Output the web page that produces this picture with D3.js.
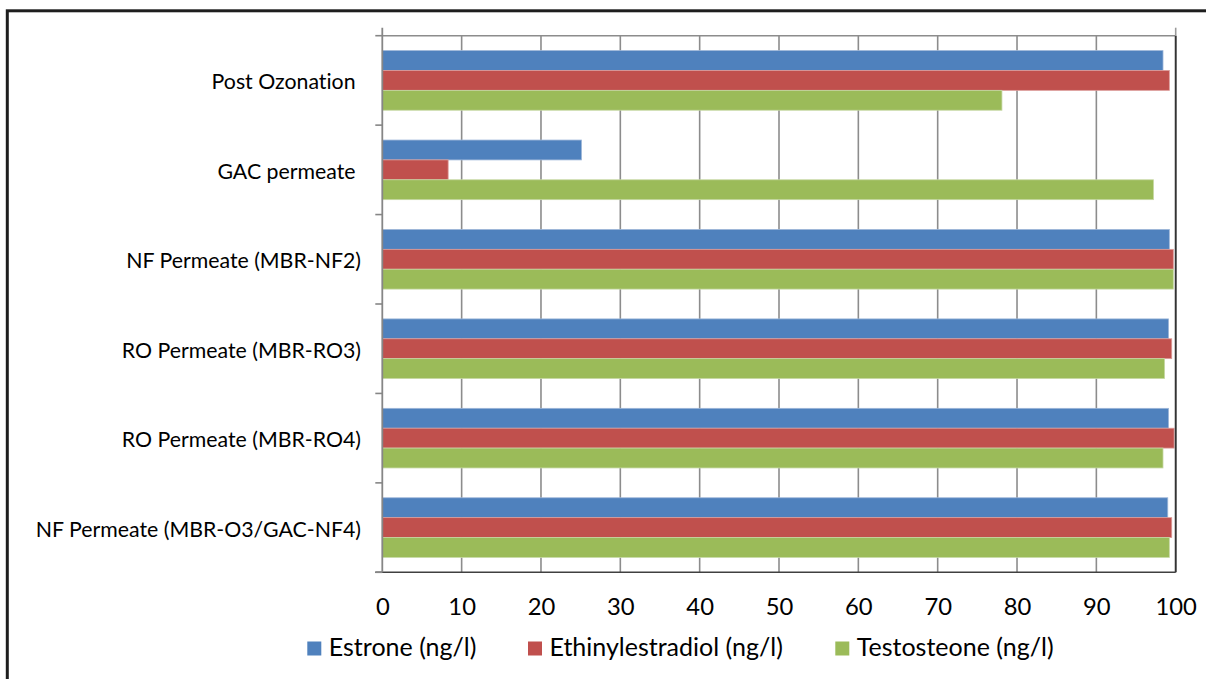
<!DOCTYPE html>
<html>
<head>
<meta charset="utf-8">
<script src="https://cdn.jsdelivr.net/npm/d3@7/dist/d3.min.js"></script>
<style>
  html, body { margin: 0; padding: 0; background: #fff; }
  svg { display: block; font-family: Lato, "Open Sans", sans-serif; font-variant-ligatures: none; }
  .cat { white-space: pre; }
</style>
</head>
<body>
<svg id="chart" width="1206" height="679"></svg>
<script>
// Removal by treatment stage (percent), one entry per stage, top to bottom
const categories = [
  "Post Ozonation ",
  "GAC permeate ",
  "NF Permeate (MBR-NF2)",
  "RO Permeate (MBR-RO3)",
  "RO Permeate (MBR-RO4)",
  "NF Permeate (MBR-O3/GAC-NF4)"
];
const seriesNames = ["Estrone (ng/l)", "Ethinylestradiol (ng/l)", "Testosteone (ng/l)"];
const estrone          = [98.4, 25.1, 99.2, 99.1, 99.1, 99.0];
const ethinylestradiol = [99.2,  8.3, 99.7, 99.5, 99.8, 99.5];
const testosteone      = [78.1, 97.2, 99.7, 98.6, 98.4, 99.2];
const xTicks = [0, 10, 20, 30, 40, 50, 60, 70, 80, 90, 100];

const seriesValues = [estrone, ethinylestradiol, testosteone];
const colors = ["#4F81BD", "#C0504D", "#9BBB59"];
const edges  = ["#9db6d8", "#dc9c9a", "#c6d8a4"];

const svg = d3.select("#chart");
const plot = { left: 382.3, right: 1175.7, top: 35.7, bottom: 572.3 };

// outer frame
svg.append("rect")
  .attr("x", 7.3).attr("y", 10.8)
  .attr("width", 1240).attr("height", 700)
  .attr("fill", "none").attr("stroke", "#1e1e1e").attr("stroke-width", 3);

const x = d3.scaleLinear().domain([0, 100]).range([plot.left, plot.right]);
const y = d3.scaleBand().domain(categories)
  .range([plot.top, plot.bottom])
  .paddingInner(1 / 3).paddingOuter(1 / 6);
const ySub = d3.scaleBand().domain(d3.range(seriesNames.length))
  .range([0, y.bandwidth()]);

// vertical gridlines
svg.append("g").selectAll("line")
  .data(xTicks.slice(1))
  .join("line")
  .attr("x1", d => x(d)).attr("x2", d => x(d))
  .attr("y1", plot.top).attr("y2", plot.bottom)
  .attr("stroke", "#8c8c8c").attr("stroke-width", 1.6);

// bars
const rows = categories.map((c, i) => ({ cat: c, vals: seriesValues.map(s => s[i]) }));
const groups = svg.append("g").selectAll("g")
  .data(rows).join("g")
  .attr("transform", d => `translate(0,${y(d.cat)})`);
groups.selectAll("rect")
  .data(d => d.vals.map((v, k) => ({ v, k })))
  .join("rect")
  .attr("x", x(0))
  .attr("y", d => ySub(d.k))
  .attr("width", d => x(d.v) - x(0))
  .attr("height", ySub.bandwidth())
  .attr("fill", d => colors[d.k])
  .attr("stroke", d => edges[d.k]).attr("stroke-width", 0.8);

// plot area border
svg.append("line")
  .attr("x1", plot.left).attr("x2", plot.right)
  .attr("y1", plot.top).attr("y2", plot.top)
  .attr("stroke", "#8c8c8c").attr("stroke-width", 1.6);
svg.append("line")
  .attr("x1", plot.right).attr("x2", plot.right)
  .attr("y1", plot.top).attr("y2", plot.bottom)
  .attr("stroke", "#333").attr("stroke-width", 1.8);
svg.append("line")
  .attr("x1", plot.right).attr("x2", plot.right)
  .attr("y1", plot.top - 8).attr("y2", plot.top)
  .attr("stroke", "#9a9a9a").attr("stroke-width", 1.6);

// bottom value axis
const xAxis = svg.append("g")
  .attr("transform", `translate(0,${plot.bottom})`)
  .call(d3.axisBottom(x).tickValues(xTicks).tickSize(0).tickPadding(26));
xAxis.select(".domain").attr("stroke", "#404040").attr("stroke-width", 1.6)
  .attr("d", `M${plot.left - 7},0H${plot.right}`);
xAxis.selectAll("text")
  .attr("fill", "#000").attr("font-size", 23.8).attr("font-family", "Lato, sans-serif");

// left category axis
const boundaries = d3.range(categories.length + 1).map(i => plot.top + i * y.step());
svg.append("line")
  .attr("x1", plot.left).attr("x2", plot.left)
  .attr("y1", plot.top - 8).attr("y2", plot.bottom)
  .attr("stroke", "#868686").attr("stroke-width", 1.8);
svg.append("g").selectAll("line")
  .data(boundaries).join("line")
  .attr("x1", plot.left - 7).attr("x2", plot.left)
  .attr("y1", d => d).attr("y2", d => d)
  .attr("stroke", "#868686").attr("stroke-width", 1.6);

svg.append("g").selectAll("text")
  .data(categories).join("text")
  .attr("class", "cat")
  .attr("x", 361)
  .attr("y", d => y(d) + y.bandwidth() / 2 + 9)
  .attr("text-anchor", "end")
  .attr("font-size", 21.3)
  .attr("fill", "#000")
  .text(d => d);

// legend
const legendX = [307.3, 528, 835.3];
const legend = svg.append("g").selectAll("g")
  .data(seriesNames).join("g")
  .attr("transform", (d, i) => `translate(${legendX[i]},641.5)`);
legend.append("rect")
  .attr("width", 14).attr("height", 14)
  .attr("fill", (d, i) => colors[i]);
legend.append("text")
  .attr("x", 21.5).attr("y", 14.2)
  .attr("font-size", 25)
  .attr("fill", "#000")
  .text(d => d);
</script>
</body>
</html>
